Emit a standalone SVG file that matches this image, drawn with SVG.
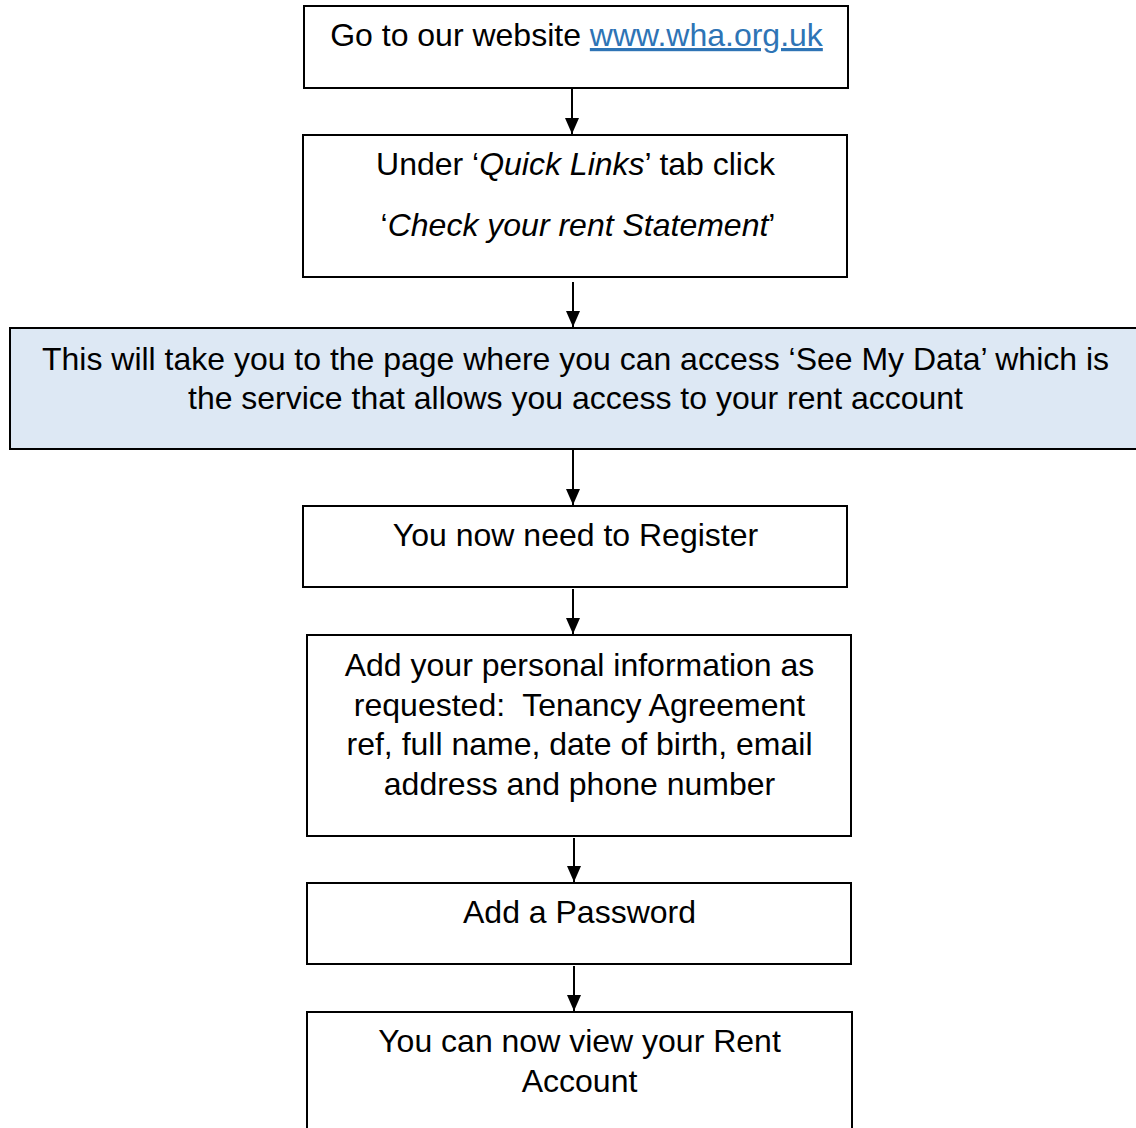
<svg xmlns="http://www.w3.org/2000/svg" width="1136" height="1128" viewBox="0 0 1136 1128">
<style>
.box{fill:#fff;stroke:#000;stroke-width:2}
.blue{fill:#dde8f4;stroke:#000;stroke-width:2}
text{font-family:"Liberation Sans",Arial,sans-serif;font-size:32px;fill:#000;text-anchor:middle}
.link{fill:#2e74b5;text-decoration:underline}
.conn{stroke:#000;stroke-width:2;fill:none}
</style>
<defs>
<marker id="ah2" viewBox="0 0 16 16" refX="16" refY="8" markerWidth="16" markerHeight="16" orient="auto" markerUnits="userSpaceOnUse">
<path d="M0,1 L16,8 L0,15 z" fill="#000"/>
</marker>
</defs>
<rect width="1136" height="1128" fill="#fff"/>
<g id="connectors">
<line class="conn" x1="572" y1="89" x2="572" y2="134" marker-end="url(#ah2)"/>
<line class="conn" x1="573" y1="282" x2="573" y2="327" marker-end="url(#ah2)"/>
<line class="conn" x1="573" y1="450" x2="573" y2="505" marker-end="url(#ah2)"/>
<line class="conn" x1="573" y1="589" x2="573" y2="634" marker-end="url(#ah2)"/>
<line class="conn" x1="574" y1="838" x2="574" y2="882" marker-end="url(#ah2)"/>
<line class="conn" x1="574" y1="966" x2="574" y2="1011" marker-end="url(#ah2)"/>
</g>
<g id="node1">
<rect class="box" x="304" y="6" width="544" height="82"/>
<text x="576.5" y="46">Go to our website <tspan class="link">www.wha.org.uk</tspan></text>
</g>
<g id="node2">
<rect class="box" x="303" y="135" width="544" height="142"/>
<text x="575.5" y="175">Under ‘<tspan font-style="italic">Quick Links</tspan>’ tab click</text>
<text x="578" y="236">‘<tspan font-style="italic">Check your rent Statement</tspan>’</text>
</g>
<g id="node3">
<rect class="blue" x="10" y="328" width="1130" height="121"/>
<text x="575.5" y="370" textLength="1067" lengthAdjust="spacingAndGlyphs">This will take you to the page where you can access ‘See My Data’ which is</text>
<text x="575.5" y="409" textLength="775" lengthAdjust="spacingAndGlyphs">the service that allows you access to your rent account</text>
</g>
<g id="node4">
<rect class="box" x="303" y="506" width="544" height="81"/>
<text x="575.5" y="546">You now need to Register</text>
</g>
<g id="node5">
<rect class="box" x="307" y="635" width="544" height="201"/>
<text x="579.5" y="676">Add your personal information as</text>
<text x="579.5" y="716">requested:&#160; Tenancy Agreement</text>
<text x="579.5" y="755">ref, full name, date of birth, email</text>
<text x="579.5" y="795">address and phone number</text>
</g>
<g id="node6">
<rect class="box" x="307" y="883" width="544" height="81"/>
<text x="579.5" y="923">Add a Password</text>
</g>
<g id="node7">
<rect class="box" x="307" y="1012" width="545" height="130"/>
<text x="579.5" y="1052">You can now view your Rent</text>
<text x="579.5" y="1092">Account</text>
</g>
</svg>
